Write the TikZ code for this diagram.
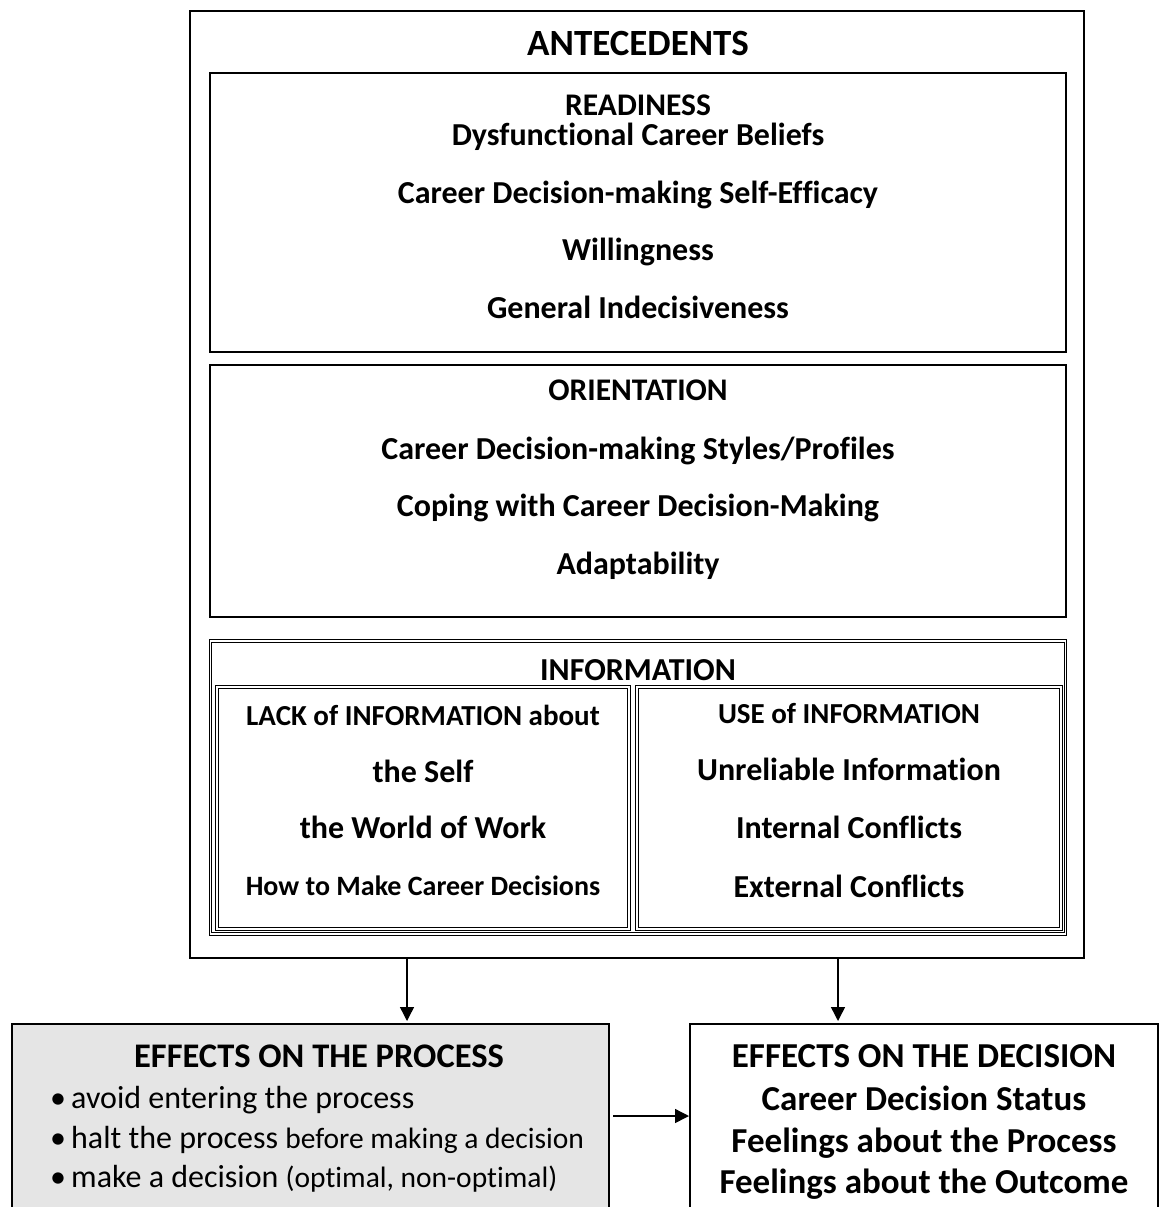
\documentclass[tikz,border=0pt]{standalone}
\usepackage{fontspec}
\setmainfont{Carlito}[Ligatures=NoCommon]
\usetikzlibrary{arrows.meta}

\begin{document}
\begin{tikzpicture}[x=1pt,y=-1pt,
  frame/.style={draw=black, line width=1.8pt, inner sep=0pt, outer sep=0pt, anchor=north west},
  dframe/.style={draw=black, line width=1pt, double=white, double distance=1.4pt,
                 inner sep=0pt, outer sep=0pt, anchor=north west},
  bt/.style={anchor=base, inner sep=0pt, font=\bfseries\fontsize{#1}{#1}\selectfont},
  rt/.style={anchor=base west, inner sep=0pt, font=\fontsize{#1}{#1}\selectfont},
  arr/.style={-{Triangle[length=14pt,width=14pt]}, line width=1.4pt, shorten >=3pt},
]
\useasboundingbox (0,0) rectangle (1160,1207);

% outer frame and the three antecedent groups
\node[frame, minimum width=894pt, minimum height=947pt] (ante) at (190,11) {};
\node[frame, minimum width=856pt, minimum height=279pt] (ready) at (210,73) {};
\node[frame, minimum width=856pt, minimum height=252pt] (orient) at (210,365) {};
\node[dframe, minimum width=855pt, minimum height=293pt] (info) at (210.5,641) {};
\node[dframe, minimum width=412pt, minimum height=242pt] (lack) at (217,687) {};
\node[dframe, minimum width=424pt, minimum height=242pt] (use) at (637,687) {};

% consequences (run past the lower page edge)
\node[frame, fill=black!10, minimum width=597pt, minimum height=260pt] (proc) at (12,1024) {};
\node[frame, minimum width=468pt, minimum height=260pt] (dec) at (690,1024) {};

% headings and items
\node[bt=37] (tA) at (638,56) {ANTECEDENTS};

\node[bt=31.5] (tR) at (638,115) {READINESS};
\node[bt=32] (tR1) at (638,145) {Dysfunctional Career Beliefs};
\node[bt=32] (tR2) at (638,203) {Career Decision-making Self-Efficacy};
\node[bt=32] (tR3) at (638,260) {Willingness};
\node[bt=32] (tR4) at (638,318) {General Indecisiveness};

\node[bt=31.5] (tO) at (638,400) {ORIENTATION};
\node[bt=32] (tO1) at (638,459) {Career Decision-making Styles/Profiles};
\node[bt=32] (tO2) at (638,516) {Coping with Career Decision-Making};
\node[bt=32] (tO3) at (638,574) {Adaptability};

\node[bt=32] (tI) at (638,680) {INFORMATION};
\node[bt=29] (tL) at (423,725) {LACK of INFORMATION about};
\node[bt=32] (tL1) at (423,782) {the Self};
\node[bt=32] (tL2) at (423,838) {the World of Work};
\node[bt=28] (tL3) at (423,895) {How to Make Career Decisions};

\node[bt=29] (tU) at (849,723) {USE of INFORMATION};
\node[bt=32] (tU1) at (849,780) {Unreliable Information};
\node[bt=32] (tU2) at (849,838) {Internal Conflicts};
\node[bt=32] (tU3) at (849,897) {External Conflicts};

\node[bt=34.5] (tP) at (319,1067) {EFFECTS ON THE PROCESS};
\node[rt=32] (tP1) at (50,1108) {\makebox[21pt][l]{•}avoid entering the process};
\node[rt=32] (tP2) at (50,1148) {\makebox[21pt][l]{•}halt the process {\fontsize{29.5}{29.5}\selectfont before making a decision}};
\node[rt=32] (tP3) at (50,1187) {\makebox[21pt][l]{•}make a decision {\fontsize{29.5}{29.5}\selectfont (optimal, non-optimal)}};

\node[bt=35] (tD) at (924,1067) {EFFECTS ON THE DECISION};
\node[bt=35] (tD1) at (924,1110) {Career Decision Status};
\node[bt=35] (tD2) at (924,1152) {Feelings about the Process};
\node[bt=35] (tD3) at (924,1193) {Feelings about the Outcome};

% connectors
\coordinate (lx) at (407,0);
\coordinate (rx) at (838,0);
\coordinate (hy) at (0,1116);
\draw[arr] (ante.south -| lx) -- (proc.north -| lx);
\draw[arr] (ante.south -| rx) -- (dec.north -| rx);
\draw[arr, shorten <=4pt, shorten >=1pt] (proc.east |- hy) -- (dec.west |- hy);
\end{tikzpicture}
\end{document}
